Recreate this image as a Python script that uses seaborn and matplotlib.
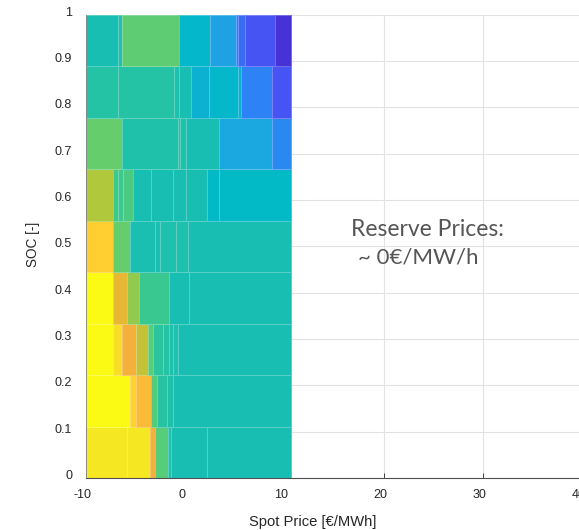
import matplotlib
matplotlib.use("Agg")
import matplotlib.pyplot as plt
import matplotlib.transforms as mtrans
from matplotlib.colors import LinearSegmentedColormap
import numpy as np
import pandas as pd
import seaborn as sns

# SOC rows, bottom to top
soc_edges = [0, 1/9, 2/9, 3/9, 4/9, 5/9, 6/9, 7/9, 8/9, 1]

# price breaks per row
price_edges = [
    [-10, -5.84, -3.52, -3.05, -1.71, -1.48, 2.15, 10.64],
    [-10, -5.57, -5.0, -3.42, -2.89, -1.88, -1.28, 10.64],
    [-10, -7.25, -6.34, -4.97, -3.72, -3.22, -2.21, -1.6, -1.27, -0.77, 10.64],
    [-10, -7.25, -5.84, -4.66, -1.6, 0.34, 10.64],
    [-10, -7.25, -5.57, -3.05, -2.55, -0.94, 0.27, 10.64],
    [-10, -7.25, -6.74, -6.24, -5.3, -3.49, -1.21, 0.13, 2.21, 3.36, 10.64],
    [-10, -6.34, -0.7, -0.5, 0.13, 3.42, 8.76, 10.64],
    [-10, -6.74, -1.11, -0.6, 0.54, 2.42, 5.34, 5.67, 8.76, 10.64],
    [-10, -6.74, -6.34, -0.64, 2.48, 5.17, 5.34, 6.07, 9.09, 10.64],
]

# colour level of each cell
levels = [
    [0.95, 0.95, 0.85, 0.66, 0.53, 0.5, 0.5],
    [1.0, 0.91, 0.87, 0.65, 0.56, 0.53, 0.5],
    [1.0, 0.93, 0.85, 0.8, 0.66, 0.57, 0.55, 0.53, 0.52, 0.5],
    [1.0, 0.83, 0.74, 0.61, 0.5, 0.5],
    [0.9, 0.68, 0.51, 0.51, 0.52, 0.52, 0.5],
    [0.78, 0.62, 0.62, 0.64, 0.5, 0.5, 0.5, 0.5, 0.41, 0.41],
    [0.68, 0.53, 0.55, 0.53, 0.5, 0.31, 0.22],
    [0.55, 0.55, 0.52, 0.5, 0.36, 0.39, 0.36, 0.2, 0.1],
    [0.5, 0.52, 0.67, 0.39, 0.29, 0.2, 0.15, 0.1, 0.0],
]

x_ticks = [-10, 0, 10, 20, 30, 40]
x_labels = ["-10", "0", "10", "20", "30", "40"]
y_ticks = [0, 0.1, 0.2, 0.3, 0.4, 0.5, 0.6, 0.7, 0.8, 0.9, 1]
y_labels = ["0", "0.1", "0.2", "0.3", "0.4", "0.5", "0.6", "0.7", "0.8", "0.9", "1"]

cmap_stops = [
    (0.00, "#4632d7"), (0.10, "#4655f5"), (0.20, "#2d82f5"), (0.30, "#1ea5e1"),
    (0.40, "#00b9c8"), (0.50, "#19beb4"), (0.60, "#32c896"), (0.68, "#64cd6e"),
    (0.78, "#afc83c"), (0.83, "#e6b932"), (0.85, "#f5af3c"), (0.90, "#ffcd32"),
    (0.95, "#f5e623"), (1.00, "#fafa14"),
]
soc_cmap = LinearSegmentedColormap.from_list("soc", cmap_stops)

sns.set_theme(style="whitegrid")
plt.rcParams["font.family"] = ["Liberation Sans", "DejaVu Sans"]

W, H = 579, 530
fig = plt.figure(figsize=(W / 100, H / 100), dpi=100)
ax = fig.add_axes([86 / W, (H - 478) / H, 496 / W, 463.3 / H])

for i, (edges, vals) in enumerate(zip(price_edges, levels)):
    edges = np.array(edges)
    row = pd.DataFrame({
        "price": (edges[:-1] + edges[1:]) / 2,
        "soc": (soc_edges[i] + soc_edges[i + 1]) / 2,
        "level": vals,
    })
    sns.histplot(
        data=row, x="price", y="soc", weights="level",
        bins=[edges, [soc_edges[i], soc_edges[i + 1]]],
        cmap=soc_cmap, vmin=0, vmax=1, thresh=None, ax=ax,
        edgecolor=(1, 1, 1, 0.28), linewidth=0.6,
    )

ax.set_xlim(-10, 40)
ax.set_ylim(0, 1)
ax.set_xticks(x_ticks)
ax.set_xticklabels(x_labels)
ax.set_yticks(y_ticks)
ax.set_yticklabels(y_labels)
ax.set_xlabel("")
ax.set_ylabel("")

ax.set_axisbelow(True)
ax.grid(True, color="#e2e2e2", linewidth=0.8)
ax.tick_params(axis="both", direction="in", length=3.6, width=0.7, color="#404040",
               labelsize=9, labelcolor="#262626", bottom=True, left=True)
ax.tick_params(axis="x", pad=8)
ax.tick_params(axis="y", pad=10)
for side in ["top", "right"]:
    ax.spines[side].set_visible(False)
ax.spines["left"].set_color("#808080")
ax.spines["left"].set_linewidth(0.6)
ax.spines["bottom"].set_color("#505050")
ax.spines["bottom"].set_linewidth(0.8)

# tick labels sit a little off their ticks
x_shift = mtrans.ScaledTranslation(-3 / 100, 0, fig.dpi_scale_trans)
for lab in ax.get_xticklabels():
    lab.set_transform(lab.get_transform() + x_shift)
y_shift = mtrans.ScaledTranslation(0, 3.5 / 100, fig.dpi_scale_trans)
for lab in ax.get_yticklabels():
    lab.set_transform(lab.get_transform() + y_shift)

fig.text(313 / W, 1 - 522 / H, "Spot Price [€/MWh]", fontsize=10.6, color="#262626",
         ha="center", va="center")
fig.text(33 / W, 1 - 244 / H, "SOC [-]", fontsize=9.8, color="#262626", rotation=90,
         ha="center", va="center")

fig.text(351 / W, 1 - 229 / H, "Reserve Prices:", fontsize=16.5, color="#555555",
         family="Lato", ha="left", va="center")
fig.text(358 / W, 1 - 257 / H, "~ 0€/MW/h", fontsize=16, color="#555555",
         family="Lato", ha="left", va="center")

fig.savefig("out.png", dpi=100)
